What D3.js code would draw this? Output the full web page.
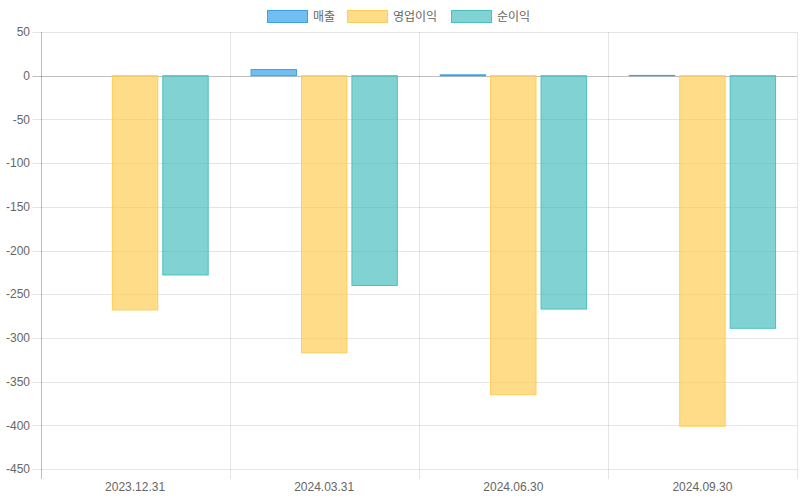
<!DOCTYPE html>
<html><head><meta charset="utf-8">
<script src="https://cdnjs.cloudflare.com/ajax/libs/d3/7.8.5/d3.min.js"></script>
<style>body{margin:0;background:#fff}svg{display:block}</style>
</head><body><svg id="c" width="800" height="500"></svg>
<script>
const categories = ["2023.12.31","2024.03.31","2024.06.30","2024.09.30"];
const seriesNames = ["매출","영업이익","순이익"];
const sales = [0, 7, 1, 0.3];
const opProfit = [-268, -317, -365, -401];
const netProfit = [-228, -240, -267, -289];
const yTicks = [50,0,-50,-100,-150,-200,-250,-300,-350,-400,-450];
const series = [sales, opProfit, netProfit];
const fills = ["rgba(54,162,235,0.7)","rgba(255,205,86,0.7)","rgba(75,192,192,0.7)"];
const strokes = ["rgb(54,162,235)","rgb(255,205,86)","rgb(75,192,192)"];

const svg = d3.select("#c");
const L=40.5, R=797, T=32, B=469;
const font = "Liberation Sans, Arial, Helvetica, sans-serif";
const y = d3.scaleLinear().domain([-450,50]).range([B,T]);
const x = d3.scaleBand().domain(categories).range([L,R]);
const inner = d3.scaleBand().domain(d3.range(3)).range([0, x.bandwidth()*0.8]);

// grid
svg.append("g").selectAll("line").data(yTicks).join("line")
  .attr("x1",L-8).attr("x2",R).attr("y1",d=>Math.round(y(d))+0.5).attr("y2",d=>Math.round(y(d))+0.5)
  .attr("stroke",d=>d===0?"rgba(0,0,0,0.25)":"rgba(0,0,0,0.1)");
svg.append("g").selectAll("line").data(categories.map((c,i)=>x(c)+x.bandwidth()).concat([L])).join("line")
  .attr("x1",d=>Math.round(d)+0.5).attr("x2",d=>Math.round(d)+0.5).attr("y1",T).attr("y2",B+10)
  .attr("stroke",(d,i)=>i===categories.length?"rgba(0,0,0,0.25)":"rgba(0,0,0,0.1)");

// y labels
svg.append("g").selectAll("text").data(yTicks).join("text")
  .attr("x",30).attr("y",d=>y(d)).attr("dy","0.35em").attr("text-anchor","end")
  .attr("font-family",font).attr("font-size",12).attr("fill","#666").text(d=>d);
// x labels
svg.append("g").selectAll("text").data(categories).join("text")
  .attr("x",d=>x(d)+x.bandwidth()/2).attr("y",487).attr("dy","0.35em").attr("text-anchor","middle")
  .attr("font-family",font).attr("font-size",12).attr("fill","#666").text(d=>d);

// bars
const bw = inner.bandwidth()*0.9;
series.forEach((s,si)=>{
  svg.append("g").selectAll("rect").data(s).join("rect")
    .attr("x",(d,i)=>x(categories[i])+x.bandwidth()*0.1+inner(si)+(inner.bandwidth()-bw)/2)
    .attr("width",bw)
    .attr("y",d=>Math.min(y(d),y(0)))
    .attr("height",d=>Math.abs(y(d)-y(0)))
    .attr("fill",fills[si]).attr("stroke",strokes[si]).attr("stroke-width",1);
});

// legend
const legX = [267,347,451];
const lg = svg.append("g");
seriesNames.forEach((n,i)=>{
  lg.append("rect").attr("x",legX[i]+0.5).attr("y",10.5).attr("width",40).attr("height",12)
    .attr("fill",fills[i]).attr("stroke",strokes[i]).attr("stroke-width",1);
  lg.append("text").attr("x",legX[i]+46).attr("y",16.5).attr("dy","0.35em")
    .attr("font-family","Liberation Sans, 'Noto Sans CJK KR', sans-serif").attr("font-size",12).attr("fill","#666").text(n);
});
</script></body></html>
